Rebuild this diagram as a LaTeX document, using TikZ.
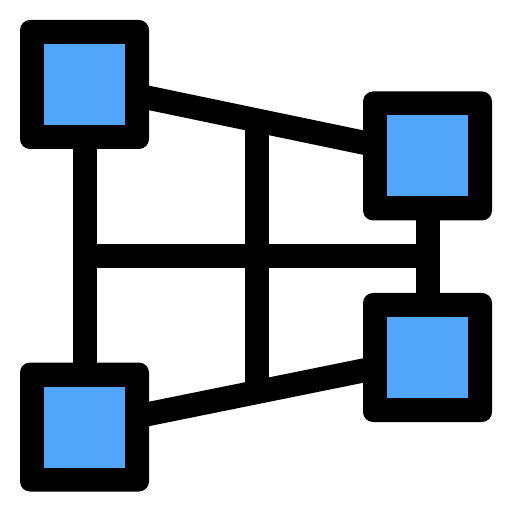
\documentclass[tikz,border=0pt]{standalone}
\definecolor{boxblue}{RGB}{82,166,249}
\begin{document}
\begin{tikzpicture}[wire/.style={line width=0.24cm},
        box/.style={rectangle,fill=black,rounded corners=0.1cm,minimum size=1.29cm,inner sep=0pt,
            path picture={\fill[boxblue,sharp corners] ([shift={(-0.405,-0.405)}]path picture bounding box.center) rectangle ++(0.81,0.81);}}]
        \useasboundingbox (0,0) rectangle (5.12,-5.12);
        \coordinate (tl) at (0.845,-0.845);
        \coordinate (tr) at (4.275,-1.56);
        \coordinate (br) at (4.275,-3.575);
        \coordinate (bl) at (0.845,-4.27);
        \coordinate (mtop) at (2.565,-1.205);
        \coordinate (mbot) at (2.565,-3.92);
        \coordinate (hl) at (0.845,-2.56);
        \coordinate (hr) at (4.275,-2.56);
        \path[wire]
        (tl) edge (tr)
        edge (bl)
        (bl) edge (br)
        (tr) edge (br)
        (hl) edge (hr)
        (mtop) edge (mbot);
        \node[box] (tlbox) at (tl) {};
        \node[box] (trbox) at (tr) {};
        \node[box] (brbox) at (br) {};
        \node[box] (blbox) at (bl) {};
    \end{tikzpicture}
\end{document}
